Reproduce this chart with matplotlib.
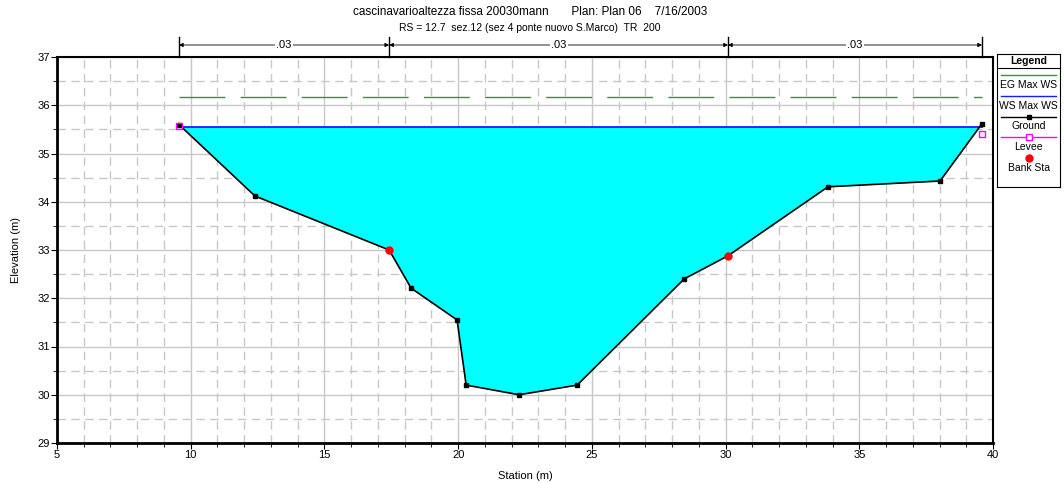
import matplotlib
matplotlib.use("Agg")
import matplotlib.pyplot as plt
from matplotlib.ticker import MultipleLocator
import numpy as np

plt.rcParams['font.family'] = ['Liberation Sans', 'DejaVu Sans']

# Data
ground_x = [9.56, 12.40, 17.42, 18.24, 19.96, 20.30, 22.28, 24.45, 28.45, 30.09, 33.83, 38.02, 39.59]
ground_y = [35.60, 34.12, 33.00, 32.21, 31.55, 30.20, 30.00, 30.20, 32.40, 32.88, 34.31, 34.43, 35.62]
bank_x = [17.42, 30.09]
bank_y = [33.00, 32.88]
levee_x = [9.56, 39.59]
levee_y = [35.58, 35.40]
ws_elev = 35.55
eg_elev = 36.18
n_stations = [9.56, 17.42, 30.09, 39.59]
n_values = [".03", ".03", ".03"]
title1 = "cascinavarioaltezza fissa 20030mann       Plan: Plan 06    7/16/2003"
title2 = "RS = 12.7  sez.12 (sez 4 ponte nuovo S.Marco)  TR  200"

W, H, DPI = 1064, 483, 100
fig = plt.figure(figsize=(W / DPI, H / DPI), dpi=DPI)
ax = fig.add_axes([57 / W, 1 - 443 / H, (993 - 57) / W, (443 - 57) / H])
ax.set_xlim(5, 40)
ax.set_ylim(29, 37)

# grid
ax.xaxis.set_major_locator(MultipleLocator(5))
ax.xaxis.set_minor_locator(MultipleLocator(1))
ax.yaxis.set_major_locator(MultipleLocator(1))
ax.yaxis.set_minor_locator(MultipleLocator(0.5))
ax.grid(which='major', color='#c8c8c8', lw=1, ls='-', zorder=0)
ax.grid(which='minor', color='#c8c8c8', lw=1, ls=(0, (6, 4)), zorder=0)
ax.set_axisbelow(True)

# water fill: polygon between ground and WS
xs = np.array(ground_x)
ys = np.array(ground_y)
ax.fill_between(xs, ys, ws_elev, where=ys <= ws_elev + 1e-9, interpolate=True,
                color='#00ffff', lw=0, zorder=2)
ax.plot([ground_x[0], ground_x[-1]], [ws_elev, ws_elev], color='#1a1aff', lw=1.3, zorder=4)
ax.plot([ground_x[0], ground_x[-1]], [eg_elev, eg_elev], color='#2e9a2e', lw=1,
        dashes=(33, 11), zorder=4)
ax.plot(ground_x, ground_y, color='black', lw=1.2, marker='s', ms=3.5, zorder=5)
ax.plot(levee_x, levee_y, ls='none', marker='s', ms=5, mfc='none', mec='#ff00ff', mew=1, zorder=6)
ax.plot(bank_x, bank_y, ls='none', marker='o', ms=5, color='red', zorder=7)

for sp in ['left', 'bottom']:
    ax.spines[sp].set_linewidth(2)
for sp in ['top', 'right']:
    ax.spines[sp].set_linewidth(1.5)
ax.tick_params(which='major', length=4, labelsize=8, direction='out', pad=1)
ax.tick_params(which='minor', length=3, direction='out')
ax.set_xlabel("Station (m)", fontsize=8, labelpad=8)
ax.set_ylabel("Elevation (m)", fontsize=8, labelpad=12)

# Manning's n bar
yb = 37 + 12 / 48.25
for s in n_stations:
    ax.plot([s, s], [37, 37 + 20 / 48.25], color='black', lw=1, clip_on=False)
for i in range(len(n_values)):
    a, b = n_stations[i], n_stations[i + 1]
    ax.annotate("", xy=(a, yb), xytext=(b, yb), annotation_clip=False,
                arrowprops=dict(arrowstyle='<|-|>', color='black', lw=0.6,
                                mutation_scale=6, shrinkA=0, shrinkB=0))
    ax.text((a + b) / 2, yb, n_values[i], ha='center', va='center', fontsize=8,
            bbox=dict(facecolor='white', edgecolor='none', pad=1), clip_on=False, zorder=10)

fig.text(530 / W, 1 - 12 / H, title1, ha='center', va='center', fontsize=8.5)
fig.text(530 / W, 1 - 28 / H, title2, ha='center', va='center', fontsize=7.5)

# Legend box
lg = fig.add_axes([997 / W, 1 - 187 / H, 63 / W, 133 / H])
lg.set_xlim(0, 63)
lg.set_ylim(133, 0)
lg.set_xticks([])
lg.set_yticks([])
for sp in lg.spines.values():
    sp.set_linewidth(0.8)
lg.plot([0, 63], [14, 14], color='black', lw=0.8)
lg.text(31.5, 7, "Legend", ha='center', va='center', fontsize=7.5, fontweight='bold')
lg.plot([4, 59], [21, 21], color='#2e9a2e', lw=1)
lg.text(31.5, 31, "EG Max WS", ha='center', va='center', fontsize=7.5)
lg.plot([4, 59], [42, 42], color='#1a1aff', lw=1)
lg.text(31.5, 52, "WS Max WS", ha='center', va='center', fontsize=7.5)
lg.plot([4, 59], [63, 63], color='black', lw=1)
lg.plot([31.5], [63], marker='s', ms=3.5, color='black')
lg.text(31.5, 72, "Ground", ha='center', va='center', fontsize=7.5)
lg.plot([4, 59], [83, 83], color='#ff00ff', lw=1)
lg.plot([31.5], [83], marker='s', ms=5, mfc='white', mec='#ff00ff', mew=1)
lg.text(31.5, 93, "Levee", ha='center', va='center', fontsize=7.5)
lg.plot([31.5], [104], marker='o', ms=5, color='red')
lg.text(31.5, 114, "Bank Sta", ha='center', va='center', fontsize=7.5)

fig.savefig("out.png", dpi=DPI)
